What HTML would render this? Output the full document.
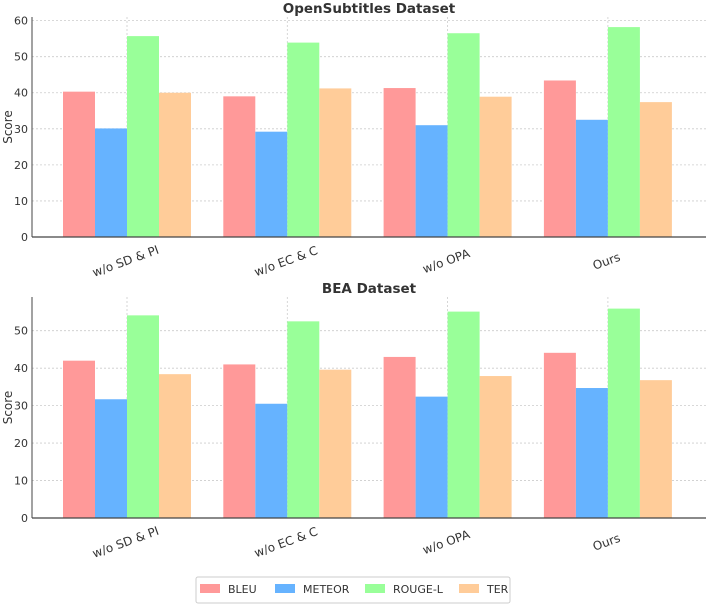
<!DOCTYPE html>
<html><head><meta charset="utf-8"><style>
body{margin:0;background:#fff;}
svg{font-family:"DejaVu Sans","Liberation Sans",sans-serif;}
</style></head><body>
<svg id="c" width="708" height="604"></svg>
<script>
const categories=["w/o SD & PI","w/o EC & C","w/o OPA","Ours"];
const seriesNames=["BLEU","METEOR","ROUGE-L","TER"];
const colors=["#ff9999","#66b3ff","#99ff99","#ffcc99"];
const topBLEU=[40.3,39.0,41.3,43.4];
const topMETEOR=[30.1,29.2,31.0,32.5];
const topROUGE=[55.7,53.9,56.5,58.2];
const topTER=[40.0,41.2,38.9,37.4];
const botBLEU=[42.0,41.0,43.0,44.1];
const botMETEOR=[31.7,30.5,32.4,34.7];
const botROUGE=[54.1,52.5,55.1,55.9];
const botTER=[38.4,39.6,37.9,36.8];
const topTicks=[0,10,20,30,40,50,60];
const botTicks=[0,10,20,30,40,50];
const NS="http://www.w3.org/2000/svg";
const svg=document.getElementById('c');
function mk(t,a,p){const e=document.createElementNS(NS,t);for(const k in a)e.setAttribute(k,a[k]);(p||svg).appendChild(e);return e;}
function panel(title,series,ticks,y0,y1,ymax,key){
  const g=mk('g',{});
  
  
  const x0=32,x1=706;
  const ys=v=>y0-(v/ymax)*(y0-y1);
  const gc=i=>127+i*160.3;
  const bw=32;
  ticks.forEach(t=>{
    const l=mk('line',{x1:x0,x2:x1,y1:ys(t),y2:ys(t),stroke:'#ccc','stroke-dasharray':'2,2','stroke-width':0.8},g);
    
    
    const tx=mk('text',{x:x0-4,y:ys(t)+4,'text-anchor':'end','font-size':11,fill:'#333'},g);
    tx.textContent=t;
    
    
  });
  categories.forEach((c,i)=>{
    const l=mk('line',{x1:gc(i),x2:gc(i),y1:y1,y2:y0,stroke:'#ccc','stroke-dasharray':'2,2','stroke-width':0.8},g);
    
    
  });
  series.forEach((arr,s)=>{
    arr.forEach((v,i)=>{
      const x=gc(i)-2*bw+s*bw;
      const r=mk('rect',{x:x,y:ys(v),width:bw,height:y0-ys(v),fill:colors[s]},g);
      
      
    });
  });
  const ax=mk('line',{x1:x0,x2:x1,y1:y0,y2:y0,stroke:'#444','stroke-width':1.2},g);
  
  
  const ay=mk('line',{x1:x0,x2:x0,y1:y1,y2:y0,stroke:'#444','stroke-width':1},g);
  
  
  categories.forEach((c,i)=>{
    const cx=gc(i), cy=y0+28;
    const t=mk('text',{x:cx,y:cy,'text-anchor':'middle','font-size':12,fill:'#333',transform:`rotate(-20 ${cx} ${cy})`},g);
    t.textContent=c;
    
    
  });
  const tt=mk('text',{x:369,y:y1-4,'text-anchor':'middle','font-size':13.5,'font-weight':'bold',fill:'#333'},g);
  tt.textContent=title;
  
  
  const yl=mk('text',{x:12,y:(y0+y1)/2,'text-anchor':'middle','font-size':12,fill:'#333',transform:`rotate(-90 12 ${(y0+y1)/2})`},g);
  yl.textContent='Score';
  
  
}
panel('OpenSubtitles Dataset',[topBLEU,topMETEOR,topROUGE,topTER],topTicks,237,17,61,'top');
panel('BEA Dataset',[botBLEU,botMETEOR,botROUGE,botTER],botTicks,518,297,59,'bottom');
const lg=mk('g',{});


mk('rect',{x:196,y:577,width:314,height:26,fill:'#fff',stroke:'#ccc',rx:2},lg);
const lx=[200,275,365,459];
seriesNames.forEach((n,i)=>{
  const r=mk('rect',{x:lx[i],y:584,width:20,height:9,fill:colors[i]},lg);
  
  
  const t=mk('text',{x:lx[i]+28,y:593,'font-size':11,fill:'#333'},lg);
  t.textContent=n;
  
  
});
</script>
</body></html>
